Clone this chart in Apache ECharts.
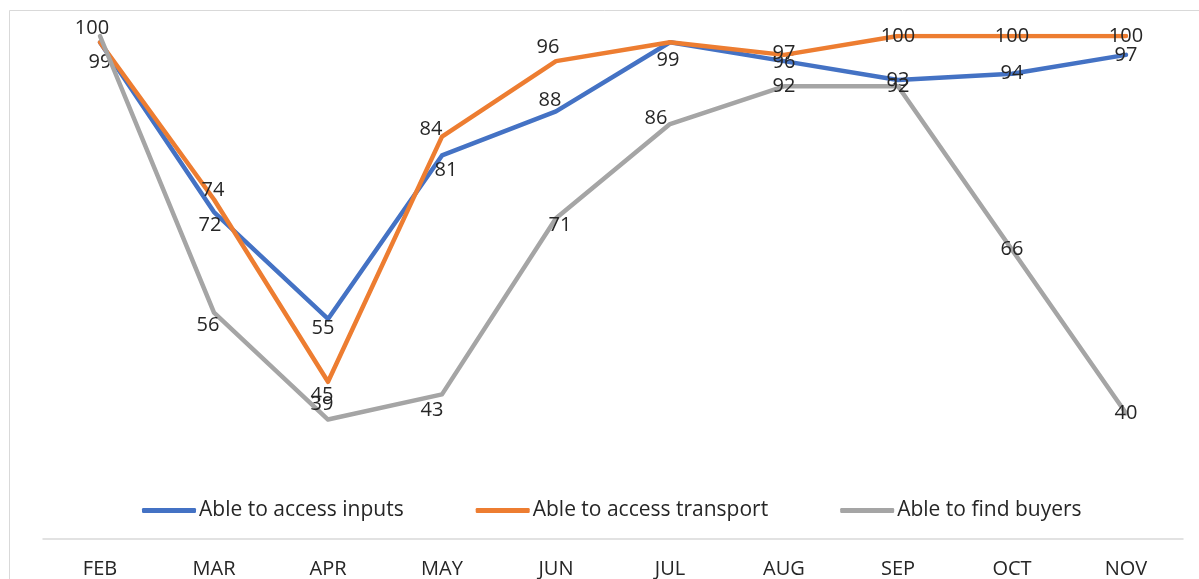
<!DOCTYPE html>
<html>
<head>
<meta charset="utf-8">
<script src="https://cdn.jsdelivr.net/npm/echarts@6/dist/echarts.min.js"></script>
<style>
  html, body { margin: 0; padding: 0; background: #ffffff; }
  #chart { width: 1199px; height: 579px; }
</style>
</head>
<body>
<div id="chart"></div>
<script>
// Monthly share of respondents (%)
const months = ['FEB', 'MAR', 'APR', 'MAY', 'JUN', 'JUL', 'AUG', 'SEP', 'OCT', 'NOV'];
const seriesNames = ['Able to access inputs', 'Able to access transport', 'Able to find buyers'];
const accessInputs = [99, 72, 55, 81, 88, 99, 96, 93, 94, 97];
const accessTransport = [99, 74, 45, 84, 96, 99, 97, 100, 100, 100];
const findBuyers = [100, 56, 39, 43, 71, 86, 92, 92, 66, 40];

// Label nudges (px) so crowded value labels stay readable
const labelNudges = {
  0: { 0: [0, 20], 1: [-4, 13], 2: [-5, 9], 3: [4, 15], 4: [-6, -11], 5: [-2, 18], 6: [0, 1] },
  1: { 0: [0, 20], 1: [-1, -9], 2: [-6, 13], 3: [-11, -7], 4: [-8, -14], 5: [-2, 18], 6: [0, -2] },
  2: { 0: [-8, -8], 1: [-6, 13], 2: [-6, -15], 3: [-10, 16], 4: [4, 7], 5: [-14, -6] }
};
// Labels that sit exactly under another series' identical label
const hiddenLabels = { 1: [0, 5] };

const colors = ['#4472C4', '#ED7D31', '#A5A5A5'];
const font = '"Open Sans", Lato, sans-serif';
const textColor = '#262626';

function buildData(values, seriesIndex) {
  const nudges = labelNudges[seriesIndex] || {};
  const hidden = hiddenLabels[seriesIndex] || [];
  return values.map((v, i) => {
    const item = { value: v };
    const label = {};
    if (nudges[i]) label.offset = nudges[i];
    if (hidden.indexOf(i) >= 0) label.show = false;
    if (Object.keys(label).length) item.label = label;
    return item;
  });
}

const chart = echarts.init(document.getElementById('chart'), null, { renderer: 'canvas' });

const seriesValues = [accessInputs, accessTransport, findBuyers];

chart.setOption({
  animation: false,
  backgroundColor: '#ffffff',
  color: colors,
  graphic: [{
    // chart-area frame
    type: 'rect',
    silent: true,
    shape: { x: 9.5, y: 10.5, width: 2000, height: 2000 },
    style: { fill: 'none', stroke: '#d9d9d9', lineWidth: 1 },
    z: -1
  }],
  grid: { left: 43, right: 16, top: 36, bottom: 39, containLabel: false },
  legend: {
    data: seriesNames,
    left: 142,
    top: 500,
    padding: 0,
    icon: 'roundRect',
    itemWidth: 54,
    itemHeight: 5,
    itemGap: 72,
    textStyle: { fontFamily: font, fontSize: 21, color: textColor, padding: [0, 0, 0, -2] }
  },
  xAxis: {
    type: 'category',
    data: months,
    boundaryGap: true,
    axisLine: { lineStyle: { color: '#d9d9d9', width: 1.5 } },
    axisTick: { show: false },
    axisLabel: { fontFamily: font, fontSize: 20, color: textColor, margin: 20 }
  },
  yAxis: {
    type: 'value',
    min: 20,
    max: 100,
    show: false,
    splitLine: { show: false }
  },
  series: seriesValues.map((vals, idx) => ({
    name: seriesNames[idx],
    type: 'line',
    data: buildData(vals, idx),
    symbol: 'circle',
    symbolSize: 0.1,
    showSymbol: true,
    lineStyle: { width: 4.5, color: colors[idx], cap: 'round', join: 'round' },
    itemStyle: { color: colors[idx] },
    label: {
      show: true,
      position: 'inside',
      fontFamily: font,
      fontSize: 20,
      color: textColor
    },
    emphasis: { disabled: true },
    z: 2 + idx
  }))
});
</script>
</body>
</html>
